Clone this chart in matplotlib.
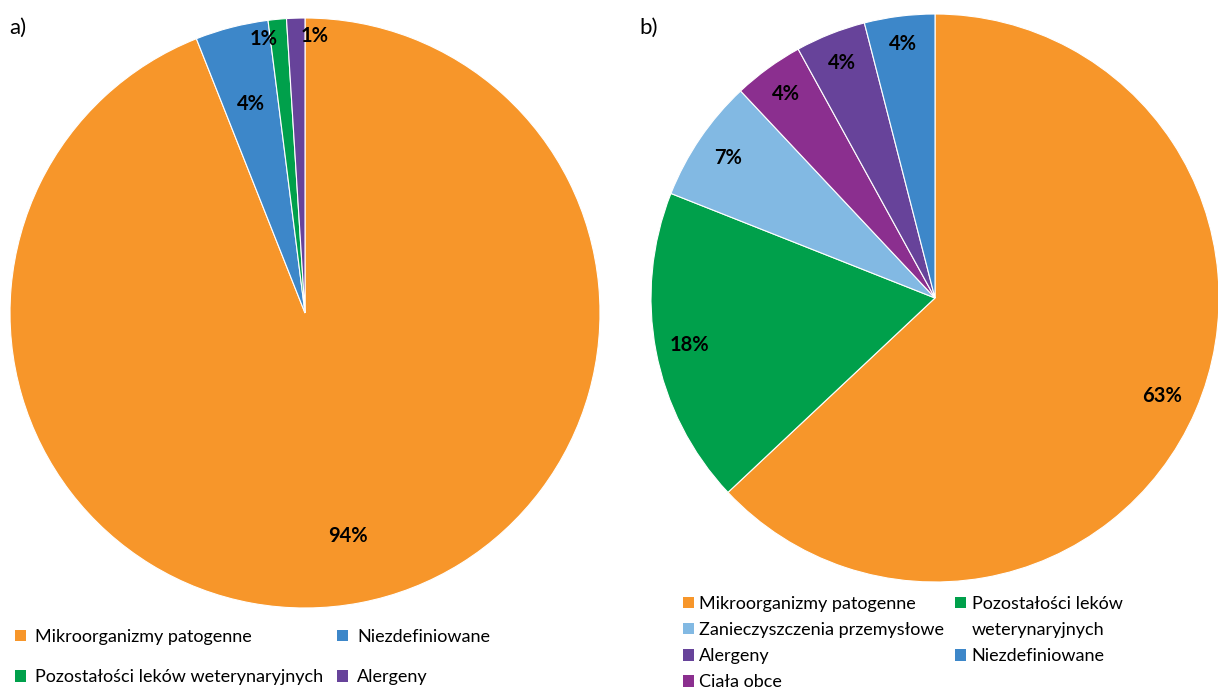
import numpy as np
import matplotlib
matplotlib.use("Agg")
import matplotlib.pyplot as plt
from matplotlib.patches import Patch

plt.rcParams['font.family'] = ['Lato', 'DejaVu Sans']

# Panel a) data
cats_a = ["Mikroorganizmy patogenne", "Niezdefiniowane",
          "Pozostałości leków weterynaryjnych", "Alergeny"]
vals_a = [94, 4, 1, 1]

# Panel b) data
cats_b = ["Mikroorganizmy patogenne", "Pozostałości leków weterynaryjnych",
          "Zanieczyszczenia przemysłowe", "Ciała obce", "Alergeny", "Niezdefiniowane"]
vals_b = [63, 18, 7, 4, 4, 4]

palette = {
    "Mikroorganizmy patogenne": "#F7962A",
    "Niezdefiniowane": "#3D87C9",
    "Pozostałości leków weterynaryjnych": "#00A04B",
    "Alergeny": "#67439A",
    "Zanieczyszczenia przemysłowe": "#82B9E3",
    "Ciała obce": "#8B2F8F",
}

W, H = 1218, 689
fig = plt.figure(figsize=(W / 100, H / 100), dpi=100)


def box(cx, cy, r):
    return [(cx - r) / W, (H - cy - r) / H, 2 * r / W, 2 * r / H]


def draw_pie(ax, vals, cats, radii, shifts):
    wedges, _ = ax.pie(vals, colors=[palette[c] for c in cats], startangle=90,
                       counterclock=False, radius=1,
                       wedgeprops=dict(edgecolor="white", linewidth=0.8))
    for w, v, r, s in zip(wedges, vals, radii, shifts):
        ang = np.deg2rad((w.theta1 + w.theta2) / 2 + s)
        ax.text(r * np.cos(ang), r * np.sin(ang), f"{v}%", ha="center", va="center",
                fontsize=14.5, fontweight="bold", color="black")
    ax.set_xlim(-1, 1)
    ax.set_ylim(-1, 1)
    ax.set_aspect("equal")
    ax.axis("off")
    return wedges


ax_a = fig.add_axes(box(305, 313, 295))
draw_pie(ax_a, vals_a, cats_a, [0.77, 0.73, 0.94, 0.94], [0, 0, 3.2, -3.8])

ax_b = fig.add_axes(box(935, 298, 284))
draw_pie(ax_b, vals_b, cats_b, [0.87, 0.88, 0.88, 0.89, 0.89, 0.9], [0, 0, 0, 0, 0, 0])

fig.text(9 / W, 1 - 28 / H, "a)", fontsize=16, va="center", ha="left")
fig.text(639 / W, 1 - 28 / H, "b)", fontsize=16, va="center", ha="left")

legend_style = dict(loc="upper left", ncol=2, frameon=False, fontsize=13,
                    handlelength=0.6, handleheight=0.6, borderaxespad=0, borderpad=0)

# Legend a): two columns, row-major order
order_a = [cats_a[0], cats_a[2], cats_a[1], cats_a[3]]
handles_a = [Patch(facecolor=palette[c], edgecolor="none") for c in order_a]
fig.legend(handles_a, order_a, bbox_to_anchor=(15 / W, 1 - 629 / H),
           handletextpad=0.5, columnspacing=0.8, labelspacing=1.35, **legend_style)

# Legend b): four entries in the first column; the long label in the second
# column wraps onto the next row without a marker of its own
blank = Patch(facecolor="none", edgecolor="none")
col1 = [cats_b[0], cats_b[2], cats_b[4], cats_b[3]]
handles_b = [Patch(facecolor=palette[c], edgecolor="none") for c in col1]
labels_b = list(col1)
wrapped = cats_b[1].rsplit(" ", 1)
handles_b += [Patch(facecolor=palette[cats_b[1]], edgecolor="none"), blank,
              Patch(facecolor=palette[cats_b[5]], edgecolor="none"), blank]
labels_b += [wrapped[0], wrapped[1], cats_b[5], ""]
fig.legend(handles_b, labels_b, bbox_to_anchor=(683 / W, 1 - 596 / H),
           handletextpad=0.3, columnspacing=0.62, labelspacing=0.56, **legend_style)

fig.savefig("out.png", dpi=100, facecolor="white")
